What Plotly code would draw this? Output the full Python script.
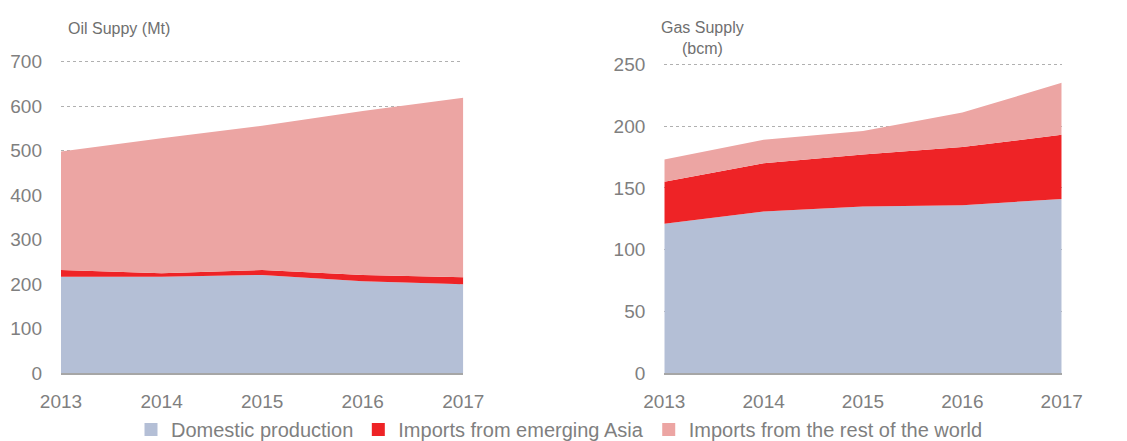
import plotly.graph_objects as go

years = [2013, 2014, 2015, 2016, 2017]
oil_domestic = [217, 217, 221, 207, 200]
oil_asia = [15, 8, 11, 14, 16]
oil_rest = [266, 303, 324, 368, 403]
gas_domestic = [121, 131, 135, 136, 141]
gas_asia = [34, 39, 42, 47, 52]
gas_rest = [18, 19, 19, 28, 42]
series_names = ["Domestic production", "Imports from emerging Asia", "Imports from the rest of the world"]
colors = ["#b4bfd6", "#ee2326", "#eca5a3"]

FONT = "Liberation Sans Narrow, Arial Narrow, Liberation Sans, Arial, sans-serif"
W, H = 1119, 433  # page body has an 8px margin
fig = go.Figure()
for i, vals in enumerate([oil_domestic, oil_asia, oil_rest]):
    fig.add_trace(go.Scatter(x=years, y=vals, name=series_names[i], stackgroup="oil",
                             mode="lines", line=dict(width=0, color=colors[i]),
                             fillcolor=colors[i], xaxis="x", yaxis="y", showlegend=False))
for i, vals in enumerate([gas_domestic, gas_asia, gas_rest]):
    fig.add_trace(go.Scatter(x=years, y=vals, name=series_names[i], stackgroup="gas",
                             mode="lines", line=dict(width=0, color=colors[i]),
                             fillcolor=colors[i], xaxis="x2", yaxis="y2", showlegend=False))
for i, name in enumerate(series_names):
    fig.add_trace(go.Scatter(x=[None], y=[None], name=name, mode="markers",
                             marker=dict(symbol="square", size=13, color=colors[i]),
                             xaxis="x", yaxis="y", showlegend=True))

tickfont = dict(family=FONT, size=19, color="#7f7f7f")
xcommon = dict(tickvals=years, ticktext=[str(y) for y in years], tickfont=tickfont,
               showgrid=False, showline=True, linecolor="#a6a6a6", linewidth=1.5,
               ticks="", zeroline=False, fixedrange=True, ticklabelstandoff=10)
ycommon = dict(tickfont=tickfont, showgrid=True, gridcolor="#b0b0b0", griddash="dot",
               gridwidth=1, showline=False, zeroline=False, ticks="", ticklabelstandoff=18)

fig.update_layout(
    width=W, height=H,
    margin=dict(l=0, r=0, t=0, b=0, autoexpand=False),
    paper_bgcolor="white", plot_bgcolor="white",
    xaxis=dict(domain=[53/W, 455.3/W], range=[2013, 2017], anchor="y", **xcommon),
    yaxis=dict(domain=[1-365.3/H, 1-51.0/H], range=[0, 706],
               tickvals=[0, 100, 200, 300, 400, 500, 600, 700], anchor="x", **ycommon),
    xaxis2=dict(domain=[656.3/W, 1053.7/W], range=[2013, 2017], anchor="y2", **xcommon),
    yaxis2=dict(domain=[1-365.3/H, 1-52.6/H], range=[0, 253],
                tickvals=[0, 50, 100, 150, 200, 250], anchor="x2", **ycommon),
    legend=dict(orientation="h", x=551.5/W, xanchor="center", y=-8/H, yanchor="bottom",
                font=dict(family=FONT, size=20, color="#7f7f7f"),
                traceorder="normal", itemwidth=30, bgcolor="rgba(0,0,0,0)"),
    annotations=[
        dict(text="Oil Suppy (Mt)", xref="paper", yref="paper", x=58/W, y=1-20/H,
             xanchor="left", yanchor="middle", showarrow=False,
             font=dict(family=FONT, size=16, color="#6f6f6f")),
        dict(text="Gas Supply<br>(bcm)", xref="paper", yref="paper", x=694/W, y=1-30/H,
             xanchor="center", yanchor="middle", showarrow=False, align="center",
             font=dict(family=FONT, size=16, color="#6f6f6f")),
    ],
)
fig.write_html("out.html")
